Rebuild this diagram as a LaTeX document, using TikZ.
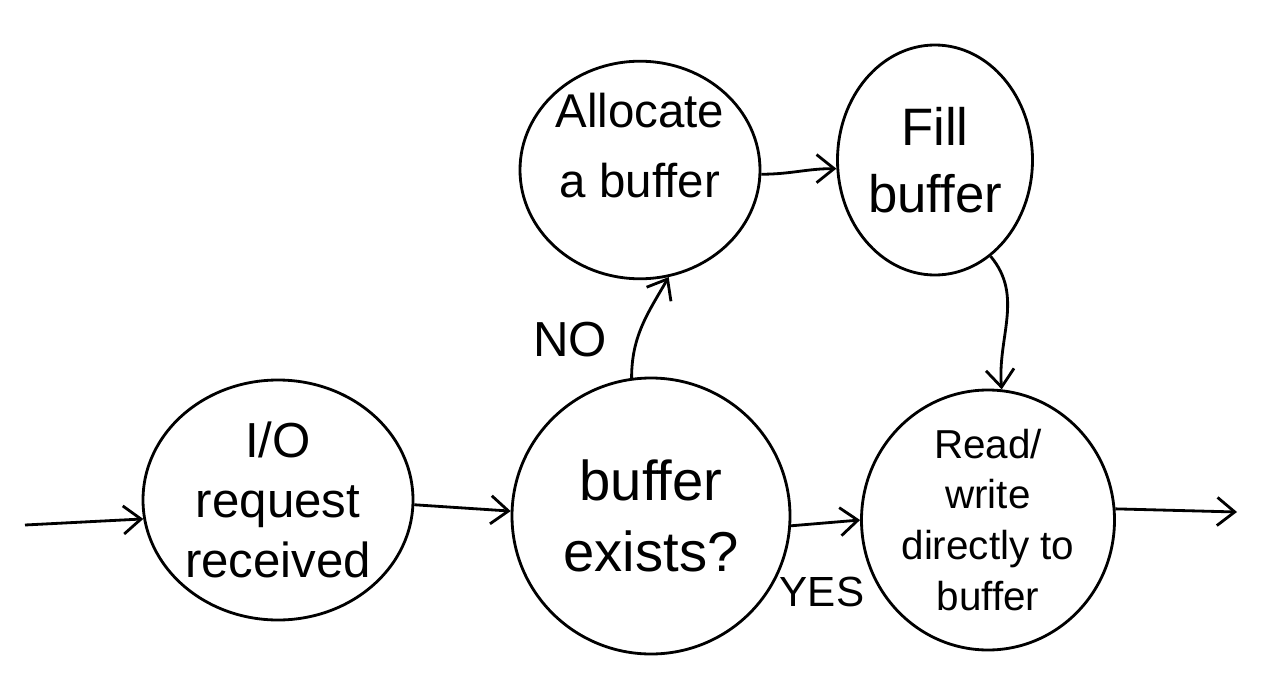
\documentclass[tikz,border=0pt]{standalone}
\usepackage{fontspec}
\setmainfont{Liberation Sans}
\usetikzlibrary{shapes.geometric,arrows.meta}
\begin{document}
\begin{tikzpicture}[x=0.02cm,y=-0.02cm,
  state/.style={ellipse,draw,line width=1.6pt,inner sep=0pt,align=center},
  conn/.style={line width=1.6pt,-{Straight Barb[length=10pt,width=16pt,line width=1.6pt]}},
  lbl/.style={inner sep=0pt}]
\useasboundingbox (0,0) rectangle (1276,700);
\node[state,minimum width={270*0.02cm},minimum height={240*0.02cm},font=\fontsize{28}{34}\selectfont] (io) at (278,500) {I/O\\request\\received};
\node[state,minimum width={278*0.02cm},minimum height={276*0.02cm},font=\fontsize{32}{40}\selectfont] (be) at (651,516) {buffer\\exists?};
\node[state,minimum width={240*0.02cm},minimum height={210*0.02cm},font=\fontsize{27}{40}\selectfont] (al) at (640,170) {Allocate\\a buffer\\[-12pt]};
\node[state,minimum width={195*0.02cm},minimum height={230*0.02cm},font=\fontsize{30}{38}\selectfont] (fi) at (935,160) {Fill\\buffer};
\node[state,minimum width={253*0.02cm},minimum height={260*0.02cm},font=\fontsize{23}{29}\selectfont] (rw) at (988,520) {Read/\\write\\directly to\\buffer};
\coordinate (in) at (25,525);
\coordinate (out) at (1237,512);
\draw[conn] (in) -- (io.188);
\draw[conn] (io.-2) -- (be.178);
\draw[conn] (be.-4) -- (rw.west);
\draw[conn] (be.98) to[out=90,in=-120] (al.-75);
\draw[conn] (al.-2) to[out=0,in=180] (fi.185);
\draw[conn] (fi.-60) to[out=-50,in=95] (rw.84);
\draw[conn] (rw.5) -- (out);
\node[lbl,font=\fontsize{28}{34}\selectfont] (no) at (570,340) {NO};
\node[lbl,font=\fontsize{24}{30}\selectfont] (yes) at (822,592) {YES};
\end{tikzpicture}
\end{document}
